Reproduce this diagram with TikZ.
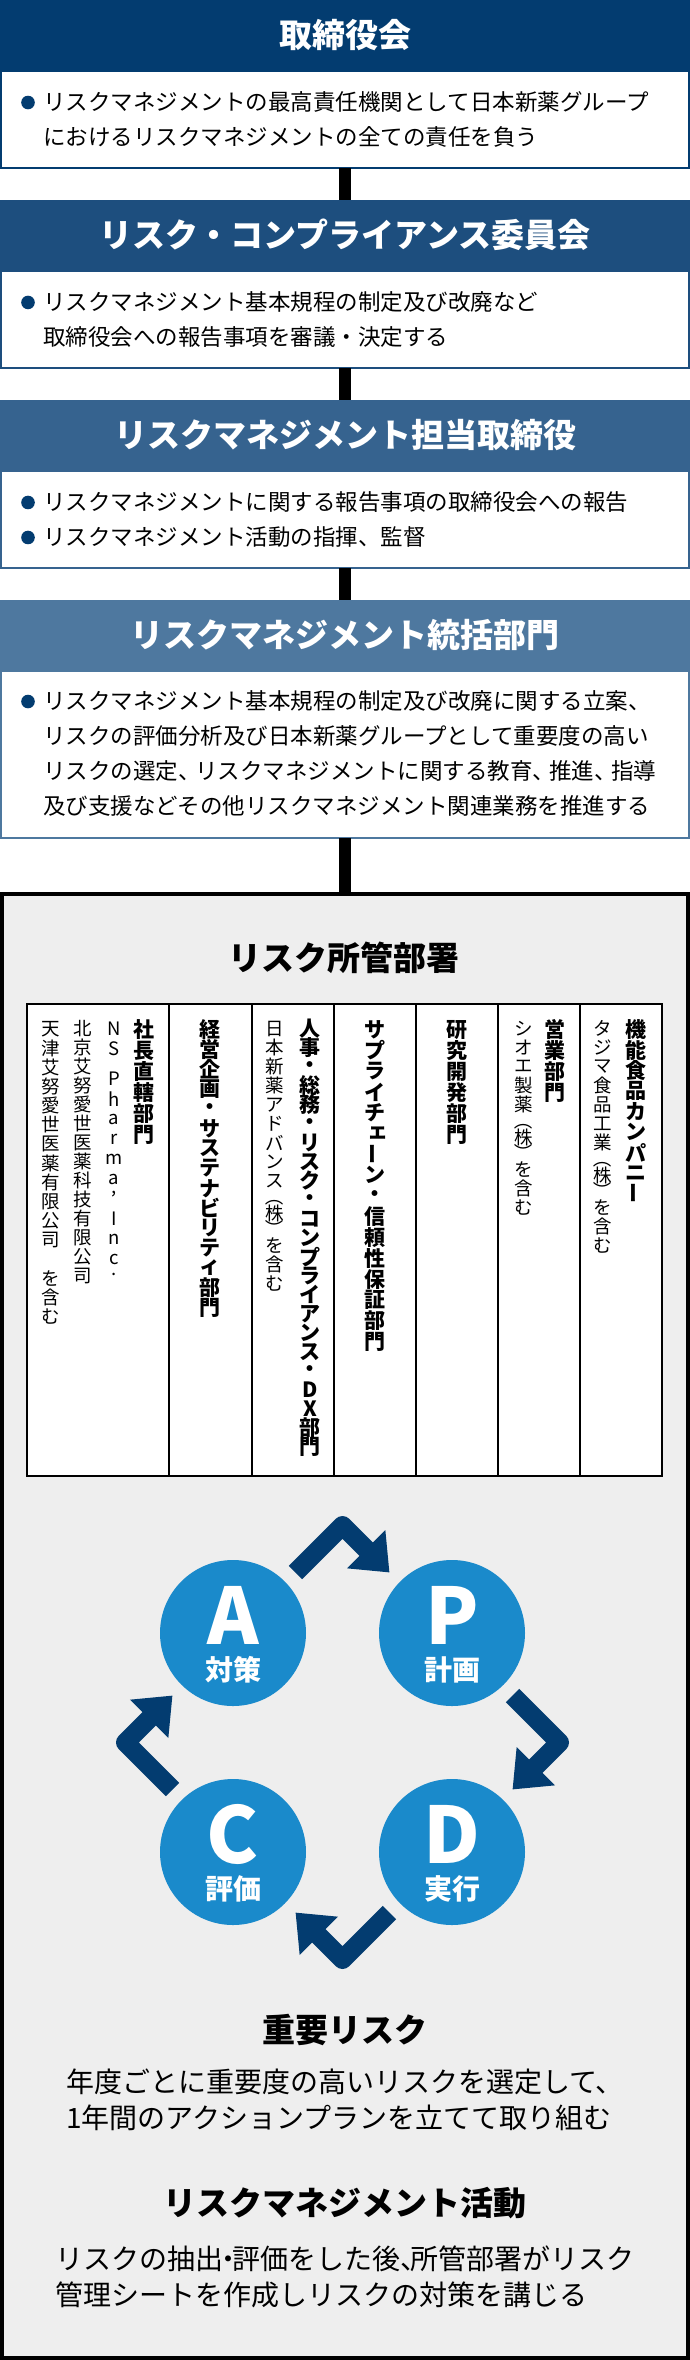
\documentclass[tikz,border=0pt]{standalone}
\usepackage{fontspec}
\setmainfont{Noto Sans CJK JP}
\usepackage{graphicx}
\usetikzlibrary{arrows.meta}

\definecolor{navyA}{HTML}{033C70}
\definecolor{navyB}{HTML}{1D4E7E}
\definecolor{navyC}{HTML}{36638F}
\definecolor{navyD}{HTML}{4E789F}
\definecolor{pdcablue}{HTML}{1A8ACB}
\definecolor{panel}{HTML}{EEEEEE}

% vertical (tategaki) columns
\newdimen\vpitch
\def\vhalf{}
\def\vblank{\kern0pt}
\def\vbar{\rotatebox[origin=c]{90}{ー}}
\def\vlpar{\rotatebox[origin=c]{-90}{（}}
\def\vrpar{\rotatebox[origin=c]{-90}{）}}
\def\vsmalle{\raisebox{.14em}[.88em][.12em]{\makebox[1em][l]{\kern.14em ェ}}}
\def\vtxtB#1{%
    \def\vfac{1}%
    \ifx#1,\def\vfac{.5}\fi
    \ifx#1.\def\vfac{.5}\fi
    \ifx#1\vhalf\def\vfac{.5}\fi
    \ifx#1\vlpar\def\vfac{.7}\fi
    \ifx#1\vrpar\def\vfac{.7}\fi
    \vbox to \vfac\vpitch{\vss\hbox to\vpitch{\hss#1\hss}\vss}}
\def\vtxtA#1{\ifx#1\relax\else\vtxtB#1\expandafter\vtxtA\fi}
\newcommand\vtxt[2][19pt]{\vpitch=#1\relax\vbox{\offinterlineskip\vtxtA#2\relax}}

\newcommand\bul{\makebox[22pt][l]{\tikz[baseline=-8pt]\fill[navyA] (0,0) circle (6.8pt);}}
\newcommand\ind{\hspace*{22pt}}
\newcommand\pcomma{\makebox[.75em][l]{、}}
\newcommand\hcomma{\makebox[.35em][l]{、}}
\newcommand\hdot{\makebox[.3em][c]{・}}

\begin{document}
\begin{tikzpicture}[x=1pt,y=-1pt,
    headbox/.style={rectangle, inner sep=0pt, outer sep=0pt, minimum width=690pt, minimum height=70pt,
        text=white, font=\fontsize{33}{33}\selectfont\bfseries},
    bodybox/.style={rectangle, fill=white, line width=2.4pt, inner sep=0pt, outer sep=0pt,
        minimum width=687.6pt},
    bodytxt/.style={anchor=west, align=left, inner sep=0pt, font=\fontsize{22.5}{35}\selectfont},
    link/.style={line width=12pt, black},
    panelbox/.style={rectangle, draw=black, fill=panel, line width=4pt, inner sep=0pt, outer sep=0pt,
        minimum width=686pt, minimum height=1464pt},
    ttl/.style={inner sep=0pt, font=\fontsize{33}{33}\selectfont\bfseries},
    tblbox/.style={rectangle, draw=black, fill=white, line width=2.6pt, inner sep=0pt, outer sep=0pt},
    vcol/.style={anchor=north, inner sep=0pt, font=\fontsize{18.5}{18.5}\selectfont},
    vbold/.style={anchor=north, inner sep=0pt, font=\fontsize{21}{21}\selectfont\bfseries},
    pdcacircle/.style={circle, fill=pdcablue, minimum size=146pt, inner sep=0pt},
    pdcaletter/.style={inner sep=0pt, text=white, font=\fontsize{78}{78}\selectfont\bfseries},
    pdcalabel/.style={inner sep=0pt, text=white, font=\fontsize{28}{28}\selectfont\bfseries},
    cycarrow/.style={navyA, line width=19pt, line join=round, -{Triangle[length=33pt,width=52pt]}},
    para/.style={align=left, inner sep=0pt, font=\fontsize{28}{36}\selectfont}]

    \useasboundingbox (0,0) rectangle (690,2360);

    \node[headbox, fill=navyA] (h1) at (345,35) {取締役会};
    \node[bodybox, draw=navyA, minimum height=96.6pt] (b1) at (345,119.5) {};
    \node[bodytxt] (t1) at (21,119.5) {\bul リスクマネジメントの最高責任機関として日本新薬グループ\\
        \ind におけるリスクマネジメントの全ての責任を負う};

    \node[headbox, fill=navyB] (h2) at (345,235) {リスク・コンプライアンス委員会};
    \node[bodybox, draw=navyB, minimum height=96.6pt] (b2) at (345,319.5) {};
    \node[bodytxt] (t2) at (21,319.5) {\bul リスクマネジメント基本規程の制定及び改廃など\\
        \ind 取締役会への報告事項を審議・決定する};

    \node[headbox, fill=navyC] (h3) at (345,435) {リスクマネジメント担当取締役};
    \node[bodybox, draw=navyC, minimum height=96.6pt] (b3) at (345,519.5) {};
    \node[bodytxt] (t3) at (21,519.5) {\bul リスクマネジメントに関する報告事項の取締役会への報告\\
        \bul リスクマネジメント活動の指揮、監督};

    \node[headbox, fill=navyD] (h4) at (345,635) {リスクマネジメント統括部門};
    \node[bodybox, draw=navyD, minimum height=166.6pt] (b4) at (345,754.5) {};
    \node[bodytxt] (t4) at (21,753.5) {\bul リスクマネジメント基本規程の制定及び改廃に関する立案、\\
        \ind リスクの評価分析及び日本新薬グループとして重要度の高い\\
        \ind リスクの選定\pcomma リスクマネジメントに関する教育\pcomma 推進\pcomma 指導\\
        \ind 及び支援などその他リスクマネジメント関連業務を推進する};

    \node[panelbox] (frm) at (345,1626) {};

    \draw[link] (b1) -- (h2);
    \draw[link] (b2) -- (h3);
    \draw[link] (b3) -- (h4);
    \draw[link] (b4) -- (frm);

    \node[ttl] (sec) at (344,958) {リスク所管部署};

    \node[tblbox, minimum width=635pt, minimum height=472pt] (tab) at (344.5,1240) {};
    \foreach \x in {169,252,334,416,498,580}
        \draw[line width=2.6pt] (\x,1004) -- (\x,1476);

    \node[vbold] (col1) at (144,1019) {\vtxt[21pt]{社長直轄部門}};
    \node[vcol] (col1a) at (114,1019) {\vtxt[20pt]{NS\vhalf Pharma,\vhalf Inc.}};
    \node[vcol] (col1b) at (83,1019) {\vtxt{北京艾努愛世医薬科技有限公司}};
    \node[vcol] (col1c) at (51,1019) {\vtxt[19.2pt]{天津艾努愛世医薬有限公司\vblank を含む}};
    \node[vbold] (col2) at (210,1019) {\vtxt[19.9pt]{経営企画・サステナビリティ部門}};
    \node[vbold] (col3) at (310,1019) {\vtxt[19pt]{人事・総務・リスク・コンプライアンス・DX部門}};
    \node[vcol] (col3a) at (275,1019) {\vtxt{日本新薬アドバンス\vlpar 株\vrpar を含む}};
    \node[vbold] (col4) at (375,1019) {\vtxt[20.8pt]{サプライチ\vsmalle\vbar ン・信頼性保証部門}};
    \node[vbold] (col5) at (457,1019) {\vtxt[21pt]{研究開発部門}};
    \node[vbold] (col6) at (555,1019) {\vtxt[21pt]{営業部門}};
    \node[vcol] (col6a) at (524,1019) {\vtxt{シオエ製薬\vlpar 株\vrpar を含む}};
    \node[vbold] (col7) at (636,1019) {\vtxt[20.5pt]{機能食品カンパニ\vbar}};
    \node[vcol] (col7a) at (603,1019) {\vtxt{タジマ食品工業\vlpar 株\vrpar を含む}};

    \coordinate (ctr) at (342.5,1742.5);
    \foreach \n/\t/\x/\y in {A/対策/233/1633, P/計画/452/1633, C/評価/233/1852, D/実行/452/1852} {
        \node[pdcacircle] (p\n) at (\x,\y) {};
        \node[pdcaletter] (l\n) at ([yshift=18pt]p\n.center) {\n};
        \node[pdcalabel] (w\n) at ([yshift=-37pt]p\n.center) {\t};
    }
    \begin{scope}[shift={(ctr)}]
        \foreach \r in {0,-90,-180,-270}
            \draw[cycarrow, rotate=\r] (-47,-170) -- (0,-217) -- (47,-170);
    \end{scope}

    \node[ttl] (imp) at (345,2030) {重要リスク};
    \node[para] (impt) at (345,2100) {年度ごとに重要度の高いリスクを選定して、\\
        1年間のアクションプランを立てて取り組む};
    \node[ttl] (act) at (345,2203) {リスクマネジメント活動};
    \node[para] (actt) at (345,2277) {リスクの抽出\hdot 評価をした後\hcomma 所管部署がリスク\\
        管理シートを作成しリスクの対策を講じる};

\end{tikzpicture}
\end{document}
